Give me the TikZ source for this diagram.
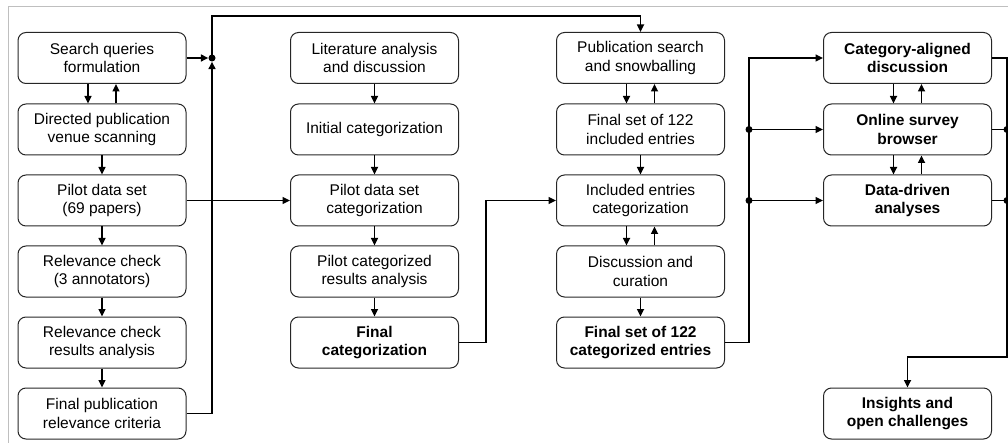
\documentclass[tikz,border=0pt]{standalone}
\usepackage{fontspec}
\setmainfont{Liberation Sans}
\usetikzlibrary{arrows.meta,calc}

\tikzset{
  stepbox/.style={draw=black!85, line width=1pt, rounded corners=8pt,
    minimum width=168pt, minimum height=51pt, inner sep=0pt,
    align=center, font=\fontsize{15.5}{18.5}\selectfont},
  keybox/.style={stepbox, font=\fontsize{15.5}{18.5}\selectfont\bfseries},
  link/.style={line width=1.6pt, -{Triangle[length=7.5pt,width=7pt]}},
  wire/.style={line width=1.6pt},
  joint/.style={circle, fill=black, inner sep=0pt, minimum size=7pt},
}

\begin{document}
\begin{tikzpicture}[x=1pt,y=-1pt]
\useasboundingbox (0,0) rectangle (1008,443);
% outer frame
\draw[black!25, line width=1pt] (8,443) -- (8,7) -- (1008,7);

% column 1: search
\node[stepbox] (s1) at (102,58)    {Search queries\\formulation};
\node[stepbox] (s2) at (102,129.5) {Directed publication\\venue scanning};
\node[stepbox] (s3) at (102,200.5) {Pilot data set\\(69 papers)};
\node[stepbox] (s4) at (102,271.5) {Relevance check\\(3 annotators)};
\node[stepbox] (s5) at (102,342.5) {Relevance check\\results analysis};
\node[stepbox] (s6) at (102,413.5) {Final publication\\relevance criteria};

% column 2: categorization
\node[stepbox] (c1) at (374.5,58)    {Literature analysis\\and discussion};
\node[stepbox] (c2) at (374.5,129.5) {Initial categorization};
\node[stepbox] (c3) at (374.5,200.5) {Pilot data set\\categorization};
\node[stepbox] (c4) at (374.5,271.5) {Pilot categorized\\results analysis};
\node[keybox]  (c5) at (374.5,342.5) {Final\\categorization};

% column 3: collection
\node[stepbox] (p1) at (640.5,58)    {Publication search\\and snowballing};
\node[stepbox] (p2) at (640.5,129.5) {Final set of 122\\included entries};
\node[stepbox] (p3) at (640.5,200.5) {Included entries\\categorization};
\node[stepbox] (p4) at (640.5,271.5) {Discussion and\\curation};
\node[keybox]  (p5) at (640.5,342.5) {Final set of 122\\categorized entries};

% column 4: results
\node[keybox] (r1) at (907.5,58)    {Category-aligned\\discussion};
\node[keybox] (r2) at (907.5,129.5) {Online survey\\browser};
\node[keybox] (r3) at (907.5,200.5) {Data-driven\\analyses};
\node[keybox] (r4) at (907.5,413.5) {Insights and\\open challenges};

% junctions
\node[joint] (j1) at (212,58) {};
\coordinate (top) at (212,16);
\coordinate (bend) at (486,342.5);
\coordinate (fork) at (749,342.5);
\node[joint] (f2) at (749,129.5) {};
\node[joint] (f3) at (749,200.5) {};
\node[joint] (m2) at (1007,129.5) {};
\node[joint] (m3) at (1007,200.5) {};
\coordinate (down) at (1007,357);

% column 1 flow
\draw[link] ([xshift=-14pt]s1.south) -- ([xshift=-14pt]s2.north);
\draw[link] ([xshift=14pt]s2.north) -- ([xshift=14pt]s1.south);
\draw[link] (s2) -- (s3);
\draw[link] (s3) -- (s4);
\draw[link] (s4) -- (s5);
\draw[link] (s5) -- (s6);
\draw[link] (s1.east) -- (j1.west);
\draw[link] (s6.east) -| (j1.south);
\draw[link] (j1.center) -- (top) -| (p1.north);
\draw[link] (s3.east) -- (c3.west);

% column 2 flow
\draw[link] (c1) -- (c2);
\draw[link] (c2) -- (c3);
\draw[link] (c3) -- (c4);
\draw[link] (c4) -- (c5);
\draw[link] (c5.east) -- (bend) |- (p3.west);

% column 3 flow
\draw[link] ([xshift=-14pt]p1.south) -- ([xshift=-14pt]p2.north);
\draw[link] ([xshift=14pt]p2.north) -- ([xshift=14pt]p1.south);
\draw[link] (p2) -- (p3);
\draw[link] ([xshift=-14pt]p3.south) -- ([xshift=-14pt]p4.north);
\draw[link] ([xshift=14pt]p4.north) -- ([xshift=14pt]p3.south);
\draw[link] (p4) -- (p5);
\draw[wire] (p5.east) -- (fork) -- (f3.center) -- (f2.center);
\draw[link] (f2.center) |- (r1.west);
\draw[link] (f2.center) -- (r2.west);
\draw[link] (f3.center) -- (r3.west);

% column 4 flow
\draw[link] ([xshift=-14pt]r1.south) -- ([xshift=-14pt]r2.north);
\draw[link] ([xshift=14pt]r2.north) -- ([xshift=14pt]r1.south);
\draw[link] ([xshift=-14pt]r2.south) -- ([xshift=-14pt]r3.north);
\draw[link] ([xshift=14pt]r3.north) -- ([xshift=14pt]r2.south);
\draw[wire] (r1.east) -| (m2.center) -- (m3.center);
\draw[wire] (r2.east) -- (m2.center);
\draw[wire] (r3.east) -- (m3.center);
\draw[link] (m3.center) -- (down) -| (r4.north);
\end{tikzpicture}
\end{document}
